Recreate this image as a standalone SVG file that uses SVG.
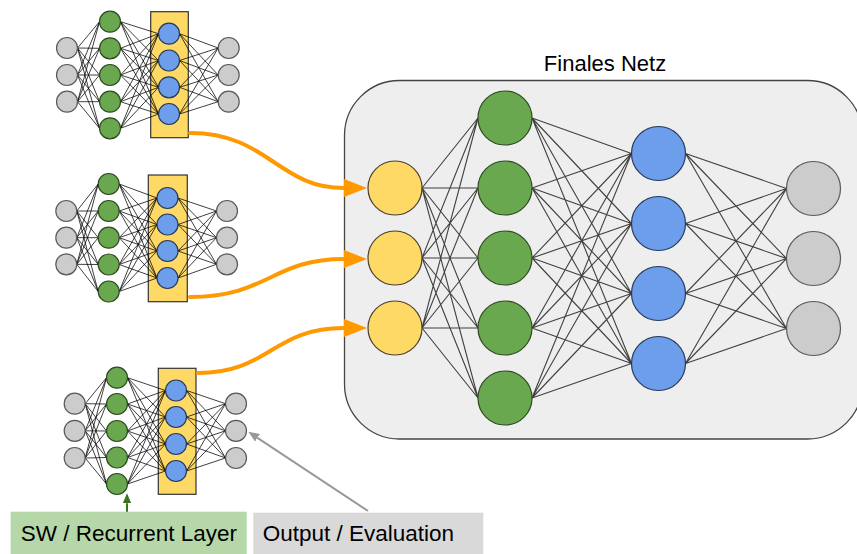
<svg xmlns="http://www.w3.org/2000/svg" width="857" height="554" viewBox="0 0 857 554">
  <style>
    text { font-family: "Liberation Sans", Arial, sans-serif; font-size: 22px; fill: #000; }
    .caption { font-size: 22.5px; }
    .n-gray { fill: #cccccc; stroke: #595959; stroke-width: 1.2; }
    .n-green { fill: #6aa84f; stroke: #2f4a22; stroke-width: 1.2; }
    .n-blue { fill: #6d9eeb; stroke: #263a5c; stroke-width: 1.2; }
    .n-yellow { fill: #ffd966; stroke: #4a4030; stroke-width: 1.2; }
    .layer-box { fill: #ffd966; stroke: #333333; stroke-width: 1.2; }
    .edges-small { fill: none; stroke: #000; stroke-opacity: 0.75; stroke-width: 1; }
    .edges-big { fill: none; stroke: #222; stroke-opacity: 0.85; stroke-width: 1.1; }
    .feed { fill: none; stroke: #ff9900; stroke-width: 4; stroke-linecap: round; }
  </style>
  <defs>
    <marker id="arrow-orange" viewBox="0 0 23 18" refX="0" refY="9" markerWidth="23" markerHeight="18" markerUnits="userSpaceOnUse" orient="auto">
      <path d="M0,0 L23,9 L0,18 Z" fill="#ff9900"/>
    </marker>
    <marker id="arrow-green" viewBox="0 0 10 8.4" refX="0" refY="4.2" markerWidth="10" markerHeight="8.4" markerUnits="userSpaceOnUse" orient="auto">
      <path d="M0,0 L10,4.2 L0,8.4 Z" fill="#38761d"/>
    </marker>
    <marker id="arrow-gray" viewBox="0 0 11 9" refX="0" refY="4.5" markerWidth="11" markerHeight="9" markerUnits="userSpaceOnUse" orient="auto">
      <path d="M0,0 L11,4.5 L0,9 Z" fill="#999999"/>
    </marker>
  </defs>

  <rect width="857" height="554" fill="#ffffff"/>

  <!-- container of the final network -->
  <g id="final-net">
    <rect x="344.5" y="80.5" width="518" height="358.5" rx="55" ry="55" fill="#eeeeee" stroke="#444444" stroke-width="1.3"/>
    <text x="605" y="71" text-anchor="middle">Finales Netz</text>
  </g>

  <!-- highlighted hidden layers of the three small networks -->
  <g id="box-a"><rect class="layer-box" x="150.7" y="11.7" width="37.6" height="126"/></g>
  <g id="box-b"><rect class="layer-box" x="148.3" y="175" width="39" height="126.7"/></g>
  <g id="box-c"><rect class="layer-box" x="158.3" y="368.3" width="37.7" height="126"/></g>

  <g id="connectors">
    <!-- network A -->
    <path class="edges-small" d="M77.5 48L99.5 21.7M77.5 48L99.5 48.3M77.5 48L99.5 75M77.5 48L99.5 101.7M77.5 48L99.5 128.3M77.5 75L99.5 21.7M77.5 75L99.5 48.3M77.5 75L99.5 75M77.5 75L99.5 101.7M77.5 75L99.5 128.3M77.5 101.7L99.5 21.7M77.5 101.7L99.5 48.3M77.5 101.7L99.5 75M77.5 101.7L99.5 101.7M77.5 101.7L99.5 128.3"/>
    <path class="edges-small" d="M120.5 21.7L158.5 33.7M120.5 21.7L158.5 60.5M120.5 21.7L158.5 87.3M120.5 21.7L158.5 114M120.5 48.3L158.5 33.7M120.5 48.3L158.5 60.5M120.5 48.3L158.5 87.3M120.5 48.3L158.5 114M120.5 75L158.5 33.7M120.5 75L158.5 60.5M120.5 75L158.5 87.3M120.5 75L158.5 114M120.5 101.7L158.5 33.7M120.5 101.7L158.5 60.5M120.5 101.7L158.5 87.3M120.5 101.7L158.5 114M120.5 128.3L158.5 33.7M120.5 128.3L158.5 60.5M120.5 128.3L158.5 87.3M120.5 128.3L158.5 114"/>
    <path class="edges-small" d="M179.5 33.7L218.2 48M179.5 33.7L218.2 75M179.5 33.7L218.2 101.7M179.5 60.5L218.2 48M179.5 60.5L218.2 75M179.5 60.5L218.2 101.7M179.5 87.3L218.2 48M179.5 87.3L218.2 75M179.5 87.3L218.2 101.7M179.5 114L218.2 48M179.5 114L218.2 75M179.5 114L218.2 101.7"/>
    <!-- network B -->
    <path class="edges-small" d="M76.8 211L98.2 184M76.8 211L98.2 211M76.8 211L98.2 237.7M76.8 211L98.2 264.5M76.8 211L98.2 291.5M76.8 237.7L98.2 184M76.8 237.7L98.2 211M76.8 237.7L98.2 237.7M76.8 237.7L98.2 264.5M76.8 237.7L98.2 291.5M76.8 264.3L98.2 184M76.8 264.3L98.2 211M76.8 264.3L98.2 237.7M76.8 264.3L98.2 264.5M76.8 264.3L98.2 291.5"/>
    <path class="edges-small" d="M119.2 184L157 198M119.2 184L157 224.5M119.2 184L157 251M119.2 184L157 278M119.2 211L157 198M119.2 211L157 224.5M119.2 211L157 251M119.2 211L157 278M119.2 237.7L157 198M119.2 237.7L157 224.5M119.2 237.7L157 251M119.2 237.7L157 278M119.2 264.5L157 198M119.2 264.5L157 224.5M119.2 264.5L157 251M119.2 264.5L157 278M119.2 291.5L157 198M119.2 291.5L157 224.5M119.2 291.5L157 251M119.2 291.5L157 278"/>
    <path class="edges-small" d="M178 198L216.5 211M178 198L216.5 237.7M178 198L216.5 264.3M178 224.5L216.5 211M178 224.5L216.5 237.7M178 224.5L216.5 264.3M178 251L216.5 211M178 251L216.5 237.7M178 251L216.5 264.3M178 278L216.5 211M178 278L216.5 237.7M178 278L216.5 264.3"/>
    <!-- network C -->
    <path class="edges-small" d="M85.2 403.7L106.5 377.7M85.2 403.7L106.5 404M85.2 403.7L106.5 431M85.2 403.7L106.5 457.5M85.2 403.7L106.5 484M85.2 430.8L106.5 377.7M85.2 430.8L106.5 404M85.2 430.8L106.5 431M85.2 430.8L106.5 457.5M85.2 430.8L106.5 484M85.2 458L106.5 377.7M85.2 458L106.5 404M85.2 458L106.5 431M85.2 458L106.5 457.5M85.2 458L106.5 484"/>
    <path class="edges-small" d="M127.5 377.7L165.5 390.5M127.5 377.7L165.5 417M127.5 377.7L165.5 444M127.5 377.7L165.5 471M127.5 404L165.5 390.5M127.5 404L165.5 417M127.5 404L165.5 444M127.5 404L165.5 471M127.5 431L165.5 390.5M127.5 431L165.5 417M127.5 431L165.5 444M127.5 431L165.5 471M127.5 457.5L165.5 390.5M127.5 457.5L165.5 417M127.5 457.5L165.5 444M127.5 457.5L165.5 471M127.5 484L165.5 390.5M127.5 484L165.5 417M127.5 484L165.5 444M127.5 484L165.5 471"/>
    <path class="edges-small" d="M186.5 390.5L225.5 403.7M186.5 390.5L225.5 430.8M186.5 390.5L225.5 458M186.5 417L225.5 403.7M186.5 417L225.5 430.8M186.5 417L225.5 458M186.5 444L225.5 403.7M186.5 444L225.5 430.8M186.5 444L225.5 458M186.5 471L225.5 403.7M186.5 471L225.5 430.8M186.5 471L225.5 458"/>
    <!-- final network -->
    <path class="edges-big" d="M422 188L478 118M422 188L478 188M422 188L478 258M422 188L478 328M422 188L478 398M422 258L478 118M422 258L478 188M422 258L478 258M422 258L478 328M422 258L478 398M422 328L478 118M422 328L478 188M422 328L478 258M422 328L478 328M422 328L478 398"/>
    <path class="edges-big" d="M532 118L631.5 153.5M532 118L631.5 223.5M532 118L631.5 293.5M532 118L631.5 363.5M532 188L631.5 153.5M532 188L631.5 223.5M532 188L631.5 293.5M532 188L631.5 363.5M532 258L631.5 153.5M532 258L631.5 223.5M532 258L631.5 293.5M532 258L631.5 363.5M532 328L631.5 153.5M532 328L631.5 223.5M532 328L631.5 293.5M532 328L631.5 363.5M532 398L631.5 153.5M532 398L631.5 223.5M532 398L631.5 293.5M532 398L631.5 363.5"/>
    <path class="edges-big" d="M685.5 153.5L786.5 188.5M685.5 153.5L786.5 258.5M685.5 153.5L786.5 328.5M685.5 223.5L786.5 188.5M685.5 223.5L786.5 258.5M685.5 223.5L786.5 328.5M685.5 293.5L786.5 188.5M685.5 293.5L786.5 258.5M685.5 293.5L786.5 328.5M685.5 363.5L786.5 188.5M685.5 363.5L786.5 258.5M685.5 363.5L786.5 328.5"/>
    <!-- hidden layers feeding the final network -->
    <path class="feed" d="M190 133C268 133 278 188 344 188" marker-end="url(#arrow-orange)"/>
    <path class="feed" d="M190 297C268 297 272 259 344 259" marker-end="url(#arrow-orange)"/>
    <path class="feed" d="M198 373C270 373 272 328 344 328" marker-end="url(#arrow-orange)"/>
    <!-- label pointers -->
    <path d="M127 512L127 503.3" stroke="#38761d" stroke-width="2" fill="none" marker-end="url(#arrow-green)"/>
    <path d="M368 511L257.5 437.8" stroke="#999999" stroke-width="2" fill="none" marker-end="url(#arrow-gray)"/>
  </g>

  <!-- network A nodes -->
  <g id="a-in1"><circle class="n-gray" cx="67" cy="48" r="10.5"/></g>
  <g id="a-in2"><circle class="n-gray" cx="67" cy="75" r="10.5"/></g>
  <g id="a-in3"><circle class="n-gray" cx="67" cy="101.7" r="10.5"/></g>
  <g id="a-h1"><circle class="n-green" cx="110" cy="21.7" r="10.5"/></g>
  <g id="a-h2"><circle class="n-green" cx="110" cy="48.3" r="10.5"/></g>
  <g id="a-h3"><circle class="n-green" cx="110" cy="75" r="10.5"/></g>
  <g id="a-h4"><circle class="n-green" cx="110" cy="101.7" r="10.5"/></g>
  <g id="a-h5"><circle class="n-green" cx="110" cy="128.3" r="10.5"/></g>
  <g id="a-f1"><circle class="n-blue" cx="169" cy="33.7" r="10.5"/></g>
  <g id="a-f2"><circle class="n-blue" cx="169" cy="60.5" r="10.5"/></g>
  <g id="a-f3"><circle class="n-blue" cx="169" cy="87.3" r="10.5"/></g>
  <g id="a-f4"><circle class="n-blue" cx="169" cy="114" r="10.5"/></g>
  <g id="a-out1"><circle class="n-gray" cx="228.7" cy="48" r="10.5"/></g>
  <g id="a-out2"><circle class="n-gray" cx="228.7" cy="75" r="10.5"/></g>
  <g id="a-out3"><circle class="n-gray" cx="228.7" cy="101.7" r="10.5"/></g>

  <!-- network B nodes -->
  <g id="b-in1"><circle class="n-gray" cx="66.3" cy="211" r="10.5"/></g>
  <g id="b-in2"><circle class="n-gray" cx="66.3" cy="237.7" r="10.5"/></g>
  <g id="b-in3"><circle class="n-gray" cx="66.3" cy="264.3" r="10.5"/></g>
  <g id="b-h1"><circle class="n-green" cx="108.7" cy="184" r="10.5"/></g>
  <g id="b-h2"><circle class="n-green" cx="108.7" cy="211" r="10.5"/></g>
  <g id="b-h3"><circle class="n-green" cx="108.7" cy="237.7" r="10.5"/></g>
  <g id="b-h4"><circle class="n-green" cx="108.7" cy="264.5" r="10.5"/></g>
  <g id="b-h5"><circle class="n-green" cx="108.7" cy="291.5" r="10.5"/></g>
  <g id="b-f1"><circle class="n-blue" cx="167.5" cy="198" r="10.5"/></g>
  <g id="b-f2"><circle class="n-blue" cx="167.5" cy="224.5" r="10.5"/></g>
  <g id="b-f3"><circle class="n-blue" cx="167.5" cy="251" r="10.5"/></g>
  <g id="b-f4"><circle class="n-blue" cx="167.5" cy="278" r="10.5"/></g>
  <g id="b-out1"><circle class="n-gray" cx="227" cy="211" r="10.5"/></g>
  <g id="b-out2"><circle class="n-gray" cx="227" cy="237.7" r="10.5"/></g>
  <g id="b-out3"><circle class="n-gray" cx="227" cy="264.3" r="10.5"/></g>

  <!-- network C nodes -->
  <g id="c-in1"><circle class="n-gray" cx="74.7" cy="403.7" r="10.5"/></g>
  <g id="c-in2"><circle class="n-gray" cx="74.7" cy="430.8" r="10.5"/></g>
  <g id="c-in3"><circle class="n-gray" cx="74.7" cy="458" r="10.5"/></g>
  <g id="c-h1"><circle class="n-green" cx="117" cy="377.7" r="10.5"/></g>
  <g id="c-h2"><circle class="n-green" cx="117" cy="404" r="10.5"/></g>
  <g id="c-h3"><circle class="n-green" cx="117" cy="431" r="10.5"/></g>
  <g id="c-h4"><circle class="n-green" cx="117" cy="457.5" r="10.5"/></g>
  <g id="c-h5"><circle class="n-green" cx="117" cy="484" r="10.5"/></g>
  <g id="c-f1"><circle class="n-blue" cx="176" cy="390.5" r="10.5"/></g>
  <g id="c-f2"><circle class="n-blue" cx="176" cy="417" r="10.5"/></g>
  <g id="c-f3"><circle class="n-blue" cx="176" cy="444" r="10.5"/></g>
  <g id="c-f4"><circle class="n-blue" cx="176" cy="471" r="10.5"/></g>
  <g id="c-out1"><circle class="n-gray" cx="236" cy="403.7" r="10.5"/></g>
  <g id="c-out2"><circle class="n-gray" cx="236" cy="430.8" r="10.5"/></g>
  <g id="c-out3"><circle class="n-gray" cx="236" cy="458" r="10.5"/></g>

  <!-- final network nodes -->
  <g id="fin-in1"><circle class="n-yellow" cx="395" cy="188" r="27"/></g>
  <g id="fin-in2"><circle class="n-yellow" cx="395" cy="258" r="27"/></g>
  <g id="fin-in3"><circle class="n-yellow" cx="395" cy="328" r="27"/></g>
  <g id="fin-h1"><circle class="n-green" cx="505" cy="118" r="27"/></g>
  <g id="fin-h2"><circle class="n-green" cx="505" cy="188" r="27"/></g>
  <g id="fin-h3"><circle class="n-green" cx="505" cy="258" r="27"/></g>
  <g id="fin-h4"><circle class="n-green" cx="505" cy="328" r="27"/></g>
  <g id="fin-h5"><circle class="n-green" cx="505" cy="398" r="27"/></g>
  <g id="fin-f1"><circle class="n-blue" cx="658.5" cy="153.5" r="27"/></g>
  <g id="fin-f2"><circle class="n-blue" cx="658.5" cy="223.5" r="27"/></g>
  <g id="fin-f3"><circle class="n-blue" cx="658.5" cy="293.5" r="27"/></g>
  <g id="fin-f4"><circle class="n-blue" cx="658.5" cy="363.5" r="27"/></g>
  <g id="fin-out1"><circle class="n-gray" cx="813.5" cy="188.5" r="27"/></g>
  <g id="fin-out2"><circle class="n-gray" cx="813.5" cy="258.5" r="27"/></g>
  <g id="fin-out3"><circle class="n-gray" cx="813.5" cy="328.5" r="27"/></g>

  <!-- captions -->
  <g id="label-recurrent">
    <rect x="10.7" y="511.7" width="236" height="50" fill="#b6d7a8"/>
    <text class="caption" x="20.7" y="541">SW / Recurrent Layer</text>
  </g>
  <g id="label-output">
    <rect x="253.3" y="512.7" width="230" height="50" fill="#d9d9d9"/>
    <text class="caption" x="262.7" y="541">Output / Evaluation</text>
  </g>
</svg>
